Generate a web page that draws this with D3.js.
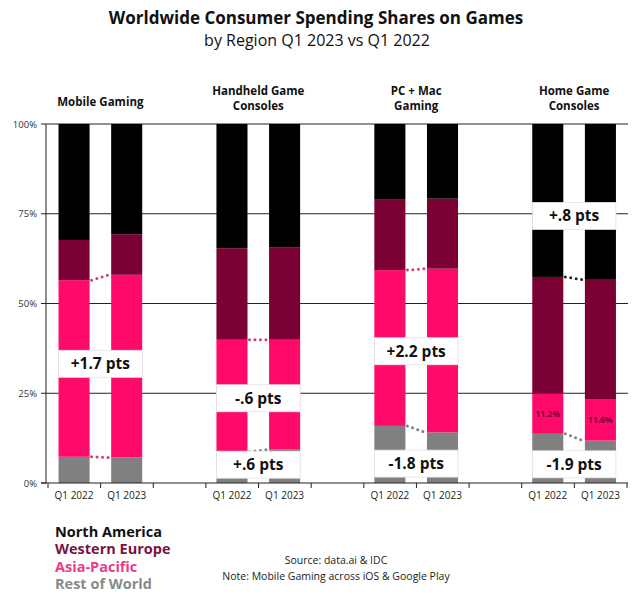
<!DOCTYPE html>
<html><head><meta charset="utf-8">
<script src="https://cdn.jsdelivr.net/npm/d3@7"></script>
<style>body{margin:0;background:#fff}svg{display:block;font-family:"Open Sans",Lato,sans-serif}</style>
</head><body><svg id="c" width="640" height="598"></svg>
<script>
const categories = ["Mobile Gaming","Handheld Game Consoles","PC + Mac Gaming","Home Game Consoles"];
const headerLines = [["Mobile Gaming"],["Handheld Game","Consoles"],["PC + Mac","Gaming"],["Home Game","Consoles"]];
const periods = ["Q1 2022","Q1 2023"];
const regions = ["North America","Western Europe","Asia-Pacific","Rest of World"];
const northAmerica  = [[32.3,30.7],[34.6,34.3],[21.1,20.8],[42.6,43.4]];
const westernEurope = [[11.2,11.3],[25.5,25.8],[19.6,19.5],[32.5,33.2]];
const asiaPacific   = [[49.2,50.9],[31.2,30.6],[43.4,45.6],[11.2,11.6]];
const restOfWorld   = [[7.3,7.1],[8.7,9.3],[15.9,14.1],[13.7,11.8]];
const yTicks = [0,25,50,75,100];
const yTickLabels = ["0%","25%","50%","75%","100%"];
const changeLabels = [
  {cat:0, text:"+1.7 pts", at:33.2},
  {cat:1, text:"-.6 pts", at:23.6},
  {cat:1, text:"+.6 pts", at:5.1},
  {cat:2, text:"+2.2 pts", at:36.7},
  {cat:2, text:"-1.8 pts", at:5.4},
  {cat:3, text:"+.8 pts", at:74.4},
  {cat:3, text:"-1.9 pts", at:5.2}
];
const connectors = [
  {cat:0, region:"Asia-Pacific", tone:"pink"},
  {cat:0, region:"Rest of World", tone:"pink"},
  {cat:1, region:"Asia-Pacific", tone:"pink"},
  {cat:1, region:"Rest of World", tone:"gray"},
  {cat:2, region:"Asia-Pacific", tone:"pink"},
  {cat:2, region:"Rest of World", tone:"gray"},
  {cat:3, region:"Western Europe", tone:"black"},
  {cat:3, region:"Rest of World", tone:"gray"}
];
const inBarLabels = [{cat:3, region:"Asia-Pacific"}];

const colors = {"North America":"#000000","Western Europe":"#7b0034","Asia-Pacific":"#ff0a6a","Rest of World":"#808080"};
const legendColors = {"North America":"#111111","Western Europe":"#7a1242","Asia-Pacific":"#ea3d8a","Rest of World":"#8a8a8a"};
const toneColors = {pink:"#d23a7a", gray:"#7d7d7d", black:"#222222"};
const seriesByRegion = {"North America":northAmerica,"Western Europe":westernEurope,"Asia-Pacific":asiaPacific,"Rest of World":restOfWorld};
const stackOrder = ["Rest of World","Asia-Pacific","Western Europe","North America"];

const rows = [];
categories.forEach((c,ci)=>periods.forEach((p,pi)=>{
  const r = {cat:ci, period:pi, slot:ci*3+pi};
  regions.forEach(g=>r[g]=seriesByRegion[g][ci][pi]);
  rows.push(r);
}));
const stacked = d3.stack().keys(stackOrder)(rows);
const topOf = {};
stacked.forEach(s=>{topOf[s.key]={}; s.forEach(d=>{topOf[s.key][d.data.slot]=d;});});

const svg = d3.select("#c");
const x = d3.scaleBand().domain(d3.range(11)).range([48,627]).padding(0);
const y = d3.scaleLinear().domain([0,100]).range([483,124]);
const bw = x.bandwidth();
const barX = s => x(s) + bw*0.2;
const barW = bw*0.59;

// title
svg.append("text").attr("x",316).attr("y",24).attr("text-anchor","middle")
  .attr("font-weight",700).attr("font-size",17).attr("fill","#111")
  .text("Worldwide Consumer Spending Shares on Games");
svg.append("text").attr("x",317).attr("y",46).attr("text-anchor","middle")
  .attr("font-weight",400).attr("font-size",16).attr("fill","#111")
  .text("by Region Q1 2023 vs Q1 2022");

// headers (one text per line)
headerLines.forEach((lines,ci)=>{
  const cx = (barX(ci*3) + barX(ci*3+1)+barW)/2;
  const y0 = lines.length===1 ? 106 : 95;
  svg.append("g").selectAll("text").data(lines).join("text")
    .attr("x",cx).attr("y",(l,li)=>y0+li*15)
    .attr("text-anchor","middle").attr("font-weight",700)
    .attr("font-size",11.5).attr("fill","#111").text(l=>l);
});

// gridlines
svg.append("g").selectAll("line").data(yTicks.filter(v=>v>0)).join("line")
  .attr("x1",46).attr("x2",628).attr("y1",d=>y(d)).attr("y2",d=>y(d))
  .attr("stroke","#222").attr("stroke-width",1);

// bars
svg.append("g").selectAll("g").data(stacked).join("g")
  .attr("fill",s=>colors[s.key])
  .selectAll("rect").data(s=>s).join("rect")
  .attr("x",d=>barX(d.data.slot)).attr("width",barW)
  .attr("y",d=>y(d[1])).attr("height",d=>y(d[0])-y(d[1]));

// connectors
svg.append("g").selectAll("line").data(connectors).join("line")
  .attr("x1",d=>barX(d.cat*3)+barW+2).attr("x2",d=>barX(d.cat*3+1)-2)
  .attr("y1",d=>y(topOf[d.region][d.cat*3][1])).attr("y2",d=>y(topOf[d.region][d.cat*3+1][1]))
  .attr("stroke",d=>toneColors[d.tone]).attr("stroke-width",3)
  .attr("stroke-linecap","round").attr("stroke-dasharray","0,5.5");

// in-bar labels
inBarLabels.forEach(l=>{
  [0,1].forEach(pi=>{
    const d = topOf[l.region][l.cat*3+pi];
    svg.append("text").attr("x",barX(l.cat*3+pi)+barW/2).attr("y",(y(d[0])+y(d[1]))/2+3)
      .attr("text-anchor","middle").attr("font-size",8.5).attr("font-weight",700)
      .attr("fill","#7a0030").text(d.data[l.region].toFixed(1)+"%");
  });
});

// change labels
const cl = svg.append("g").selectAll("g").data(changeLabels).join("g");
cl.append("rect")
  .attr("x",d=>barX(d.cat*3)).attr("width",d=>barX(d.cat*3+1)+barW-barX(d.cat*3))
  .attr("y",d=>y(d.at)-13.5).attr("height",27)
  .attr("fill","#fff").attr("stroke","#e4e4e4").attr("stroke-width",0.8);
cl.append("text")
  .attr("x",d=>(barX(d.cat*3)+barX(d.cat*3+1)+barW)/2).attr("y",d=>y(d.at)+5.5)
  .attr("text-anchor","middle").attr("font-size",15.5).attr("font-weight",700).attr("fill","#111")
  .text(d=>d.text);

// y axis
const ya = svg.append("g");
ya.append("line").attr("x1",46).attr("x2",46).attr("y1",y(100)).attr("y2",y(0)).attr("stroke","#222");
ya.selectAll(".t").data(yTicks).join("line").attr("class","t")
  .attr("x1",41).attr("x2",46).attr("y1",d=>y(d)).attr("y2",d=>y(d)).attr("stroke","#222");
ya.selectAll("text").data(yTicks).join("text")
  .attr("x",37).attr("y",d=>y(d)+3.5).attr("text-anchor","end")
  .attr("font-size",9.5).attr("fill","#333").text((d,i)=>yTickLabels[i]);

// x axis
const xa = svg.append("g");
xa.append("line").attr("x1",41).attr("x2",628).attr("y1",y(0)).attr("y2",y(0)).attr("stroke","#222").attr("stroke-width",1.2);
xa.selectAll(".t").data(d3.range(12)).join("line").attr("class","t")
  .attr("x1",i=>x.range()[0]+i*x.step()).attr("x2",i=>x.range()[0]+i*x.step())
  .attr("y1",y(0)).attr("y2",y(0)+5).attr("stroke","#222");
xa.selectAll("text").data(rows).join("text")
  .attr("x",d=>barX(d.slot)+barW/2).attr("y",499).attr("text-anchor","middle")
  .attr("font-size",10).attr("fill","#222").text(d=>periods[d.period]);

// legend
svg.append("g").selectAll("text").data(regions).join("text")
  .attr("x",55).attr("y",(d,i)=>537+i*17.3)
  .attr("font-size",14.5).attr("font-weight",700).attr("fill",d=>legendColors[d]).text(d=>d);

// source
svg.append("text").attr("x",336).attr("y",564).attr("text-anchor","middle")
  .attr("font-size",10.5).attr("fill","#222").text("Source: data.ai & IDC");
svg.append("text").attr("x",336).attr("y",580).attr("text-anchor","middle")
  .attr("font-size",10.5).attr("fill","#222").text("Note: Mobile Gaming across iOS & Google Play");
</script></body></html>
